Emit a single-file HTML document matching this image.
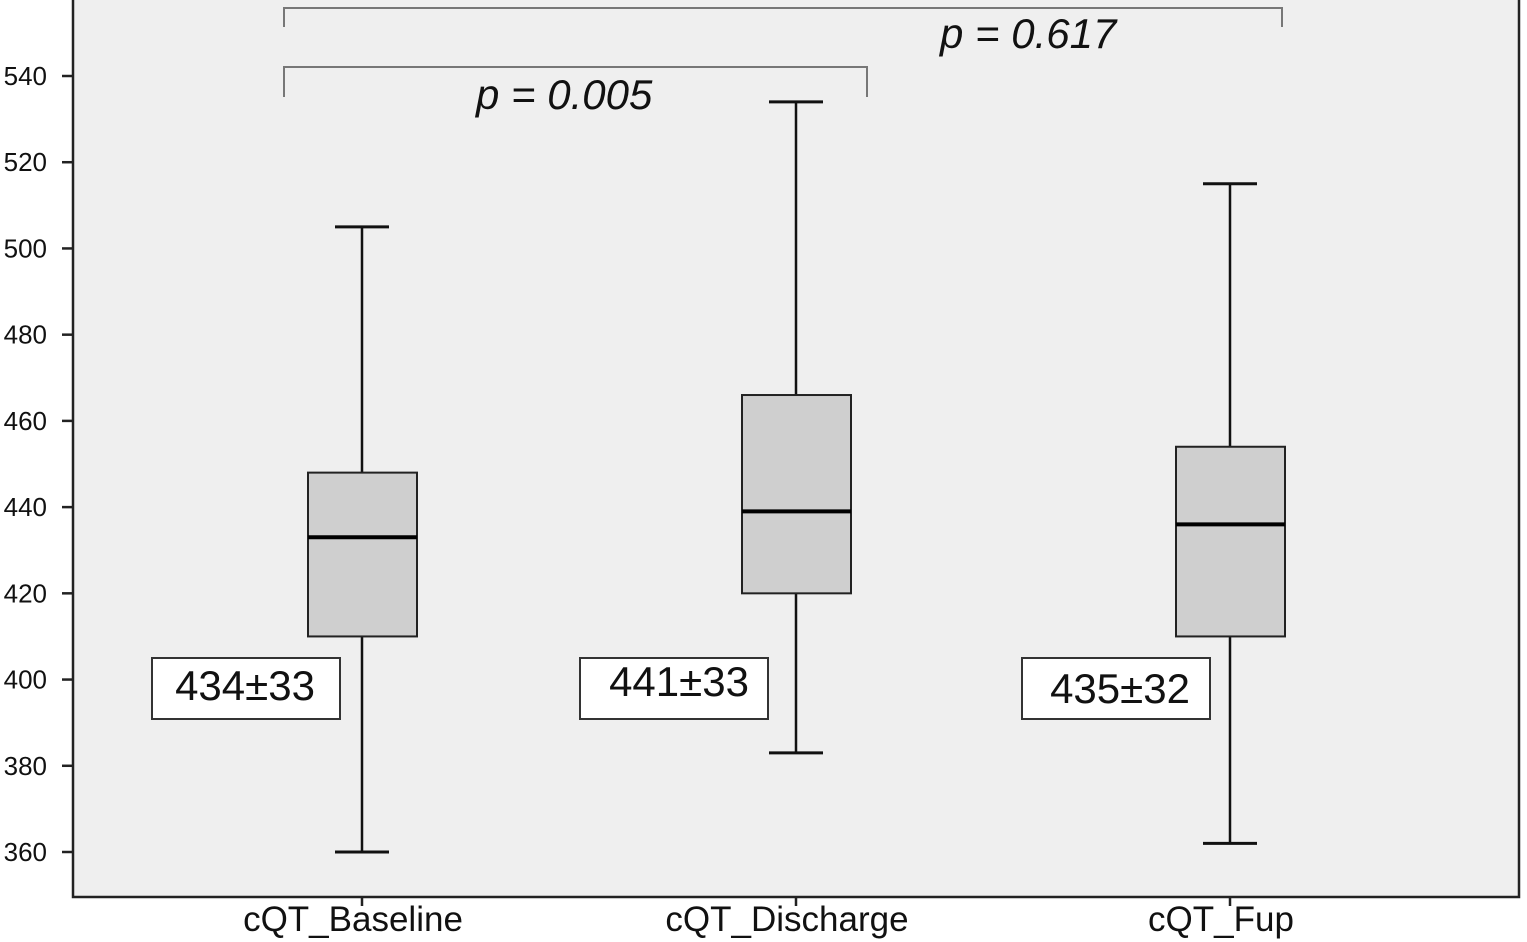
<!DOCTYPE html>
<html><head><meta charset="utf-8"><style>
html,body{margin:0;padding:0;background:#fff;}
svg{display:block;font-family:"Liberation Sans",sans-serif;}
</style></head><body>
<svg id="chart" width="1527" height="942" viewBox="0 0 1527 942" xmlns="http://www.w3.org/2000/svg">
<rect x="73" y="0" width="1446" height="897" fill="#efefef"/>
<path d="M73,0 V897 H1519 V0" fill="none" stroke="#222" stroke-width="2.5"/>
<g id="axis"></g>
<g id="boxes"></g>
<g fill="none" stroke="#777" stroke-width="2">
<path d="M284,27 V8 H1282 V27"/>
<path d="M284,97 V67 H867 V97"/>
</g>
<text x="940" y="48" font-size="42" font-style="italic" fill="#111">p = 0.617</text>
<text x="476" y="109" font-size="42" font-style="italic" fill="#111">p = 0.005</text>
</svg>
<script>
const categories = ["cQT_Baseline", "cQT_Discharge", "cQT_Fup"];
const whiskerLow = [360, 383, 362];
const q1Values = [410, 420, 410];
const medians = [433, 439, 436];
const q3Values = [448, 466, 454];
const whiskerHigh = [505, 534, 515];
const meanLabels = ["434±33", "441±33", "435±32"];
const yTicks = [360, 380, 400, 420, 440, 460, 480, 500, 520, 540];

const NS = "http://www.w3.org/2000/svg";
function y(v){ return 76 + (540 - v) * (776 / 180); }
function x(i){ return 362 + i * 434; }
const labelBoxX = [152, 580, 1022];
const labelTextX = [245, 679, 1120];
const labelTextY = [700, 696, 703];
function mk(parent, tag, attrs){
  const e = document.createElementNS(NS, tag);
  for (const k in attrs) e.setAttribute(k, attrs[k]);
  parent.appendChild(e);
  return e;
}
const axis = document.getElementById('axis');
yTicks.forEach(t => {
  const l = mk(axis, 'line', {x1:62, x2:73, y1:y(t), y2:y(t), stroke:'#222', 'stroke-width':2.5});
  
  
  const tx = mk(axis, 'text', {x:47, y:y(t)+9, 'font-size':26, 'text-anchor':'end', fill:'#111'});
  tx.textContent = t;
  
  
});
const boxes = document.getElementById('boxes');
categories.forEach((c, i) => {
  const cx = x(i);
  const g = mk(boxes, 'g', {});
  
  
  mk(g, 'line', {x1:cx, x2:cx, y1:y(whiskerHigh[i]), y2:y(whiskerLow[i]), stroke:'#111', 'stroke-width':2.5});
  mk(g, 'line', {x1:cx-27, x2:cx+27, y1:y(whiskerHigh[i]), y2:y(whiskerHigh[i]), stroke:'#111', 'stroke-width':3});
  mk(g, 'line', {x1:cx-27, x2:cx+27, y1:y(whiskerLow[i]), y2:y(whiskerLow[i]), stroke:'#111', 'stroke-width':3});
  mk(g, 'rect', {x:cx-54, y:y(q3Values[i]), width:109, height:y(q1Values[i])-y(q3Values[i]), fill:'#cfcfcf', stroke:'#222', 'stroke-width':2});
  mk(g, 'line', {x1:cx-54, x2:cx+55, y1:y(medians[i]), y2:y(medians[i]), stroke:'#000', 'stroke-width':4});
  const lb = mk(g, 'rect', {x:labelBoxX[i], y:658, width:188, height:61, fill:'#fff', stroke:'#333', 'stroke-width':2});
  
  
  const lt = mk(g, 'text', {x:labelTextX[i], y:labelTextY[i], 'font-size':42, 'text-anchor':'middle', fill:'#111'});
  lt.textContent = meanLabels[i];
  
  
  const tk = mk(g, 'line', {x1:cx, x2:cx, y1:897, y2:906, stroke:'#222', 'stroke-width':2.5});
  
  
  const xl = mk(g, 'text', {x:cx-9, y:931, 'font-size':35, 'text-anchor':'middle', fill:'#111'});
  xl.textContent = c;
  
  
});
</script>
</body></html>
